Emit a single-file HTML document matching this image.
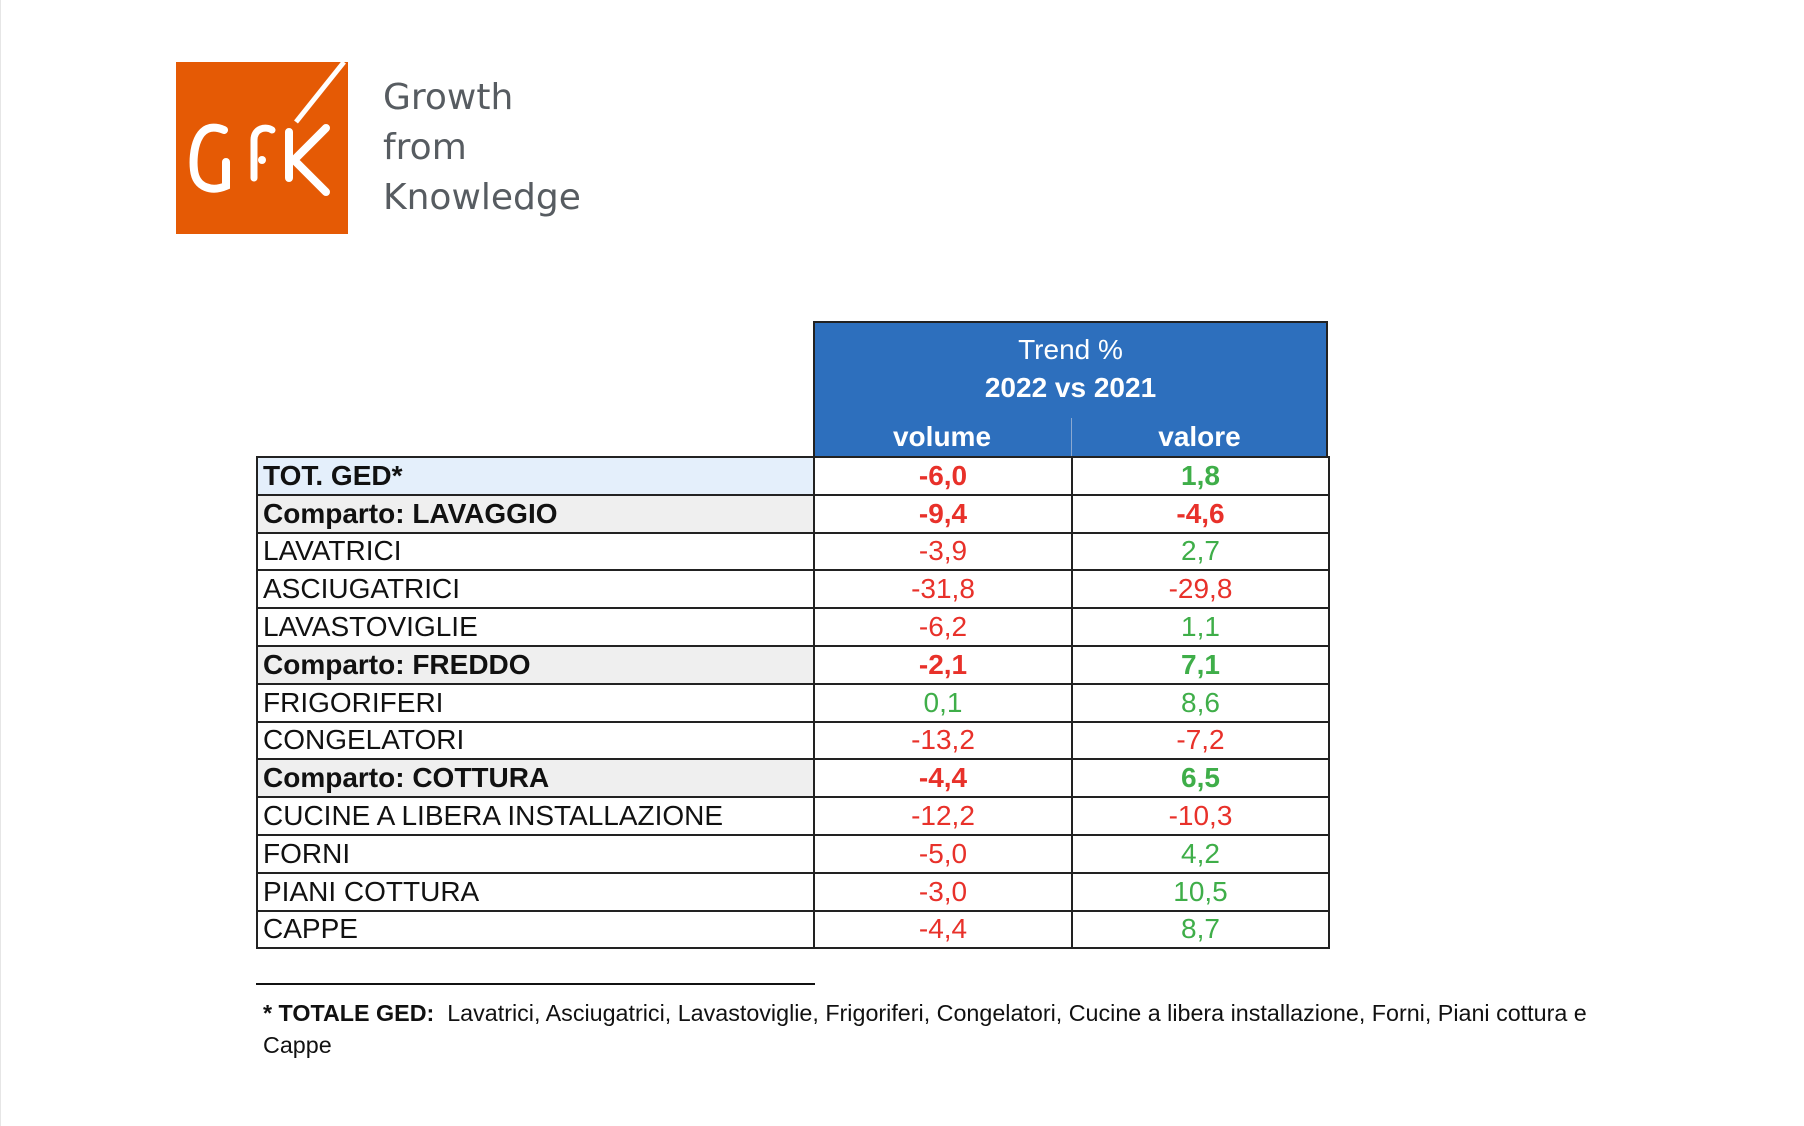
<!DOCTYPE html>
<html><head><meta charset="utf-8"><style>
*{margin:0;padding:0;box-sizing:border-box}
body{width:1804px;height:1126px;background:#fff;position:relative;overflow:hidden;font-family:"Liberation Sans",Arial,sans-serif}
.abs{position:absolute}
.logo-t{position:absolute;left:383px;font-family:"DejaVu Sans","Liberation Sans",sans-serif;font-size:36px;color:#575c61;line-height:1}
table{position:absolute;left:256px;top:456px;border-collapse:collapse;table-layout:fixed;width:1072px}
td{border:2px solid #222;height:37.8px;font-size:28px;line-height:34px;padding:0 5px;white-space:nowrap;color:#111;overflow:hidden}
td.n{text-align:center}
.b{font-weight:bold}
.r{color:#e8312a}.g{color:#3fae49}
.tot td:first-child{background:#e4effb}
.cmp td:first-child{background:#efefef}
</style></head><body>
<div class="abs" style="left:0;top:0;width:1px;height:1126px;background:#e6e6e6"></div>
<svg class="abs" style="left:176px;top:62px" width="172" height="172" viewBox="0 0 172 172">
<rect width="172" height="172" fill="#e55a05"/>
<path d="M168 0 L120 60" stroke="#fff" stroke-width="5"/>
<path d="M48 68 C20 56 16 92 18 108 C20 126 36 130 50 124 L50 100" stroke="#fff" stroke-width="8" fill="none" stroke-linecap="round"/>
<path d="M78 116 L78 78 C78 66 90 64 96 68" stroke="#fff" stroke-width="7" fill="none" stroke-linecap="round"/>
<circle cx="86" cy="98" r="4" fill="#fff"/>
<path d="M113 70 L113 116 M150 66 L118 98 L150 130" stroke="#fff" stroke-width="8" fill="none" stroke-linecap="round"/>
</svg>
<div class="logo-t" style="top:80px">Growth</div>
<div class="logo-t" style="top:130px">from</div>
<div class="logo-t" style="top:180px">Knowledge</div>

<div class="abs" style="left:813px;top:321px;width:515px;height:137px;background:#2d6fbd;border:2px solid #222;border-bottom:none"></div>
<div class="abs" style="left:1071px;top:418px;width:1px;height:39px;background:#8aa8d0"></div>
<div class="abs" style="left:813px;top:334px;width:515px;text-align:center;color:#fff;font-size:28px">Trend %</div>
<div class="abs" style="left:813px;top:372px;width:515px;text-align:center;color:#fff;font-size:28px;font-weight:bold">2022 vs 2021</div>
<div class="abs" style="left:813px;top:421px;width:258px;text-align:center;color:#fff;font-size:28px;font-weight:bold">volume</div>
<div class="abs" style="left:1071px;top:421px;width:257px;text-align:center;color:#fff;font-size:28px;font-weight:bold">valore</div>

<table>
<colgroup><col style="width:557px"><col style="width:258px"><col style="width:257px"></colgroup>
<tr class="tot"><td class="b">TOT. GED*</td><td class="n b r">-6,0</td><td class="n b g">1,8</td></tr>
<tr class="cmp"><td class="b">Comparto: LAVAGGIO</td><td class="n b r">-9,4</td><td class="n b r">-4,6</td></tr>
<tr><td>LAVATRICI</td><td class="n r">-3,9</td><td class="n g">2,7</td></tr>
<tr><td>ASCIUGATRICI</td><td class="n r">-31,8</td><td class="n r">-29,8</td></tr>
<tr><td>LAVASTOVIGLIE</td><td class="n r">-6,2</td><td class="n g">1,1</td></tr>
<tr class="cmp"><td class="b">Comparto: FREDDO</td><td class="n b r">-2,1</td><td class="n b g">7,1</td></tr>
<tr><td>FRIGORIFERI</td><td class="n g">0,1</td><td class="n g">8,6</td></tr>
<tr><td>CONGELATORI</td><td class="n r">-13,2</td><td class="n r">-7,2</td></tr>
<tr class="cmp"><td class="b">Comparto: COTTURA</td><td class="n b r">-4,4</td><td class="n b g">6,5</td></tr>
<tr><td>CUCINE A LIBERA INSTALLAZIONE</td><td class="n r">-12,2</td><td class="n r">-10,3</td></tr>
<tr><td>FORNI</td><td class="n r">-5,0</td><td class="n g">4,2</td></tr>
<tr><td>PIANI COTTURA</td><td class="n r">-3,0</td><td class="n g">10,5</td></tr>
<tr><td>CAPPE</td><td class="n r">-4,4</td><td class="n g">8,7</td></tr>
</table>

<div class="abs" style="left:256px;top:983px;width:559px;height:2px;background:#111"></div>
<div class="abs" style="left:263px;top:997px;font-size:23.3px;color:#111;white-space:nowrap;line-height:32px"><b>* TOTALE GED:</b>&nbsp; Lavatrici, Asciugatrici, Lavastoviglie, Frigoriferi, Congelatori, Cucine a libera installazione, Forni, Piani cottura e<br>Cappe</div>
</body></html>
